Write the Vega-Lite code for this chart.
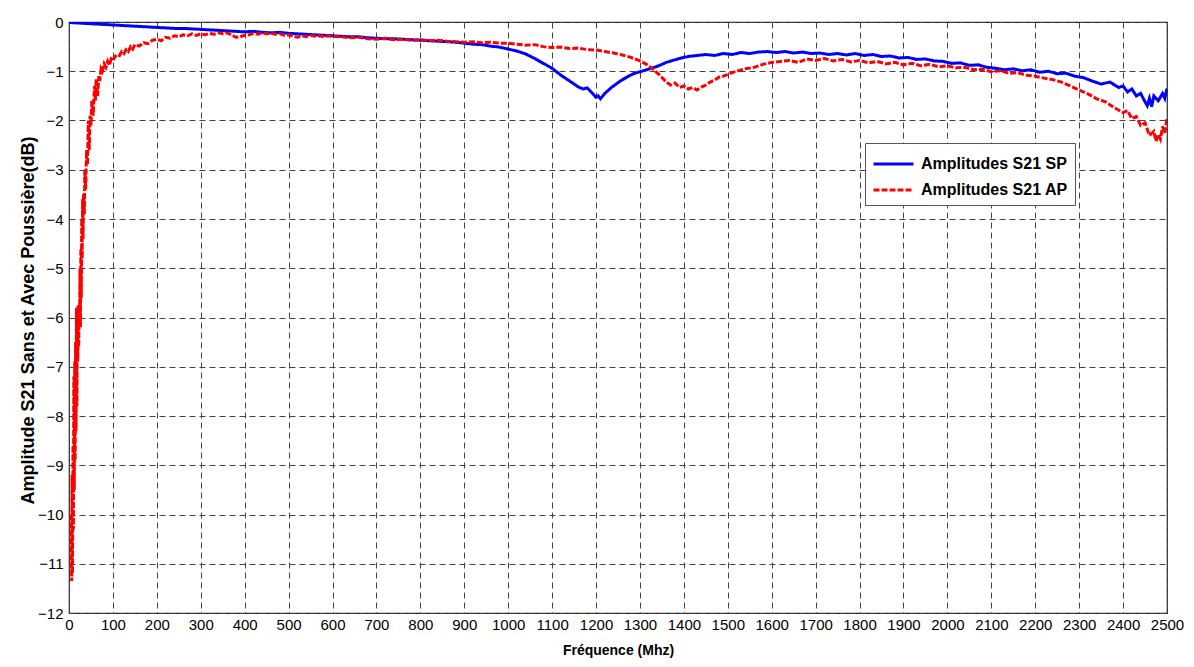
{
  "$schema": "https://vega.github.io/schema/vega-lite/v6.json",
  "width": 1098,
  "height": 591,
  "autosize": "none",
  "padding": {"left": 69, "top": 22, "right": 27, "bottom": 54},
  "background": "white",
  "config": {
    "view": {"stroke": "#222", "strokeWidth": 1.2},
    "font": "Liberation Sans",
    "axis": {
      "domain": false,
      "ticks": false,
      "grid": true,
      "gridColor": "#444",
      "gridDash": [6, 4],
      "gridOpacity": 1,
      "gridWidth": 1,
      "labelColor": "black",
      "labelFont": "Liberation Sans Narrow, Liberation Sans",
      "labelFontSize": 15,
      "titleColor": "black",
      "titleFont": "Liberation Sans",
      "titleFontWeight": "bold",
      "titleFontSize": 14
    }
  },
  "data": {"values": [
    {"c":"SP","f":0,"v":-0.01},{"c":"SP","f":20,"v":-0.02},{"c":"SP","f":40,"v":-0.03},{"c":"SP","f":60,"v":-0.04},{"c":"SP","f":80,"v":-0.05},{"c":"SP","f":100,"v":-0.06},{"c":"SP","f":120,"v":-0.07},{"c":"SP","f":140,"v":-0.08},{"c":"SP","f":160,"v":-0.09},{"c":"SP","f":180,"v":-0.10},{"c":"SP","f":200,"v":-0.11},{"c":"SP","f":220,"v":-0.12},{"c":"SP","f":240,"v":-0.13},{"c":"SP","f":260,"v":-0.13},{"c":"SP","f":280,"v":-0.14},{"c":"SP","f":300,"v":-0.15},{"c":"SP","f":320,"v":-0.16},{"c":"SP","f":340,"v":-0.17},{"c":"SP","f":360,"v":-0.18},{"c":"SP","f":380,"v":-0.19},{"c":"SP","f":400,"v":-0.20},{"c":"SP","f":420,"v":-0.19},{"c":"SP","f":440,"v":-0.21},{"c":"SP","f":460,"v":-0.22},{"c":"SP","f":480,"v":-0.21},{"c":"SP","f":500,"v":-0.23},{"c":"SP","f":520,"v":-0.24},{"c":"SP","f":540,"v":-0.25},{"c":"SP","f":560,"v":-0.26},{"c":"SP","f":580,"v":-0.27},{"c":"SP","f":600,"v":-0.28},{"c":"SP","f":620,"v":-0.29},{"c":"SP","f":640,"v":-0.30},{"c":"SP","f":660,"v":-0.30},{"c":"SP","f":680,"v":-0.32},{"c":"SP","f":700,"v":-0.33},{"c":"SP","f":720,"v":-0.34},{"c":"SP","f":740,"v":-0.34},{"c":"SP","f":760,"v":-0.35},{"c":"SP","f":780,"v":-0.36},{"c":"SP","f":800,"v":-0.37},{"c":"SP","f":820,"v":-0.38},{"c":"SP","f":840,"v":-0.39},{"c":"SP","f":860,"v":-0.40},{"c":"SP","f":880,"v":-0.41},{"c":"SP","f":900,"v":-0.43},{"c":"SP","f":920,"v":-0.45},{"c":"SP","f":940,"v":-0.46},{"c":"SP","f":960,"v":-0.49},{"c":"SP","f":980,"v":-0.51},{"c":"SP","f":1000,"v":-0.55},{"c":"SP","f":1020,"v":-0.59},{"c":"SP","f":1040,"v":-0.65},{"c":"SP","f":1060,"v":-0.74},{"c":"SP","f":1080,"v":-0.84},{"c":"SP","f":1100,"v":-0.94},{"c":"SP","f":1120,"v":-1.08},{"c":"SP","f":1140,"v":-1.20},{"c":"SP","f":1160,"v":-1.32},{"c":"SP","f":1170,"v":-1.36},{"c":"SP","f":1180,"v":-1.34},{"c":"SP","f":1190,"v":-1.43},{"c":"SP","f":1200,"v":-1.53},{"c":"SP","f":1205,"v":-1.50},{"c":"SP","f":1210,"v":-1.56},{"c":"SP","f":1220,"v":-1.45},{"c":"SP","f":1235,"v":-1.33},{"c":"SP","f":1255,"v":-1.20},{"c":"SP","f":1270,"v":-1.12},{"c":"SP","f":1285,"v":-1.05},{"c":"SP","f":1300,"v":-1.01},{"c":"SP","f":1315,"v":-0.97},{"c":"SP","f":1330,"v":-0.93},{"c":"SP","f":1345,"v":-0.88},{"c":"SP","f":1360,"v":-0.82},{"c":"SP","f":1375,"v":-0.78},{"c":"SP","f":1390,"v":-0.74},{"c":"SP","f":1410,"v":-0.70},{"c":"SP","f":1430,"v":-0.68},{"c":"SP","f":1450,"v":-0.66},{"c":"SP","f":1470,"v":-0.68},{"c":"SP","f":1490,"v":-0.64},{"c":"SP","f":1510,"v":-0.66},{"c":"SP","f":1530,"v":-0.62},{"c":"SP","f":1550,"v":-0.64},{"c":"SP","f":1570,"v":-0.61},{"c":"SP","f":1590,"v":-0.60},{"c":"SP","f":1610,"v":-0.62},{"c":"SP","f":1630,"v":-0.60},{"c":"SP","f":1650,"v":-0.63},{"c":"SP","f":1670,"v":-0.61},{"c":"SP","f":1690,"v":-0.64},{"c":"SP","f":1710,"v":-0.63},{"c":"SP","f":1730,"v":-0.66},{"c":"SP","f":1750,"v":-0.64},{"c":"SP","f":1770,"v":-0.67},{"c":"SP","f":1790,"v":-0.64},{"c":"SP","f":1810,"v":-0.68},{"c":"SP","f":1830,"v":-0.66},{"c":"SP","f":1850,"v":-0.70},{"c":"SP","f":1870,"v":-0.69},{"c":"SP","f":1890,"v":-0.73},{"c":"SP","f":1910,"v":-0.72},{"c":"SP","f":1930,"v":-0.76},{"c":"SP","f":1950,"v":-0.75},{"c":"SP","f":1970,"v":-0.79},{"c":"SP","f":1990,"v":-0.80},{"c":"SP","f":2010,"v":-0.84},{"c":"SP","f":2030,"v":-0.83},{"c":"SP","f":2050,"v":-0.88},{"c":"SP","f":2070,"v":-0.87},{"c":"SP","f":2090,"v":-0.92},{"c":"SP","f":2110,"v":-0.94},{"c":"SP","f":2130,"v":-0.97},{"c":"SP","f":2150,"v":-0.95},{"c":"SP","f":2170,"v":-0.99},{"c":"SP","f":2190,"v":-0.97},{"c":"SP","f":2210,"v":-1.02},{"c":"SP","f":2230,"v":-1.00},{"c":"SP","f":2250,"v":-1.05},{"c":"SP","f":2270,"v":-1.04},{"c":"SP","f":2290,"v":-1.10},{"c":"SP","f":2310,"v":-1.13},{"c":"SP","f":2330,"v":-1.20},{"c":"SP","f":2350,"v":-1.26},{"c":"SP","f":2370,"v":-1.22},{"c":"SP","f":2390,"v":-1.33},{"c":"SP","f":2400,"v":-1.30},{"c":"SP","f":2410,"v":-1.42},{"c":"SP","f":2420,"v":-1.36},{"c":"SP","f":2430,"v":-1.50},{"c":"SP","f":2440,"v":-1.45},{"c":"SP","f":2450,"v":-1.62},{"c":"SP","f":2455,"v":-1.70},{"c":"SP","f":2460,"v":-1.55},{"c":"SP","f":2465,"v":-1.72},{"c":"SP","f":2470,"v":-1.50},{"c":"SP","f":2480,"v":-1.60},{"c":"SP","f":2490,"v":-1.45},{"c":"SP","f":2495,"v":-1.55},{"c":"SP","f":2500,"v":-1.35},
    {"c":"AP","f":5,"v":-10.0},{"c":"AP","f":6,"v":-11.35},{"c":"AP","f":7,"v":-9.2},{"c":"AP","f":8,"v":-11.2},{"c":"AP","f":9,"v":-8.6},{"c":"AP","f":10,"v":-10.3},{"c":"AP","f":11,"v":-7.2},{"c":"AP","f":12,"v":-9.5},{"c":"AP","f":13,"v":-6.9},{"c":"AP","f":14,"v":-8.9},{"c":"AP","f":15,"v":-6.5},{"c":"AP","f":16,"v":-8.3},{"c":"AP","f":17,"v":-5.8},{"c":"AP","f":18,"v":-7.8},{"c":"AP","f":19,"v":-5.8},{"c":"AP","f":20,"v":-6.9},{"c":"AP","f":21,"v":-5.75},{"c":"AP","f":22,"v":-6.6},{"c":"AP","f":23,"v":-5.8},{"c":"AP","f":24,"v":-6.2},{"c":"AP","f":25,"v":-5.0},{"c":"AP","f":26,"v":-6.2},{"c":"AP","f":27,"v":-4.6},{"c":"AP","f":28,"v":-5.6},{"c":"AP","f":29,"v":-4.0},{"c":"AP","f":30,"v":-4.8},{"c":"AP","f":31,"v":-3.6},{"c":"AP","f":32,"v":-4.4},{"c":"AP","f":33,"v":-3.5},{"c":"AP","f":35,"v":-3.9},{"c":"AP","f":36,"v":-3.0},{"c":"AP","f":38,"v":-3.4},{"c":"AP","f":40,"v":-2.6},{"c":"AP","f":42,"v":-2.9},{"c":"AP","f":44,"v":-2.0},{"c":"AP","f":46,"v":-2.6},{"c":"AP","f":48,"v":-1.9},{"c":"AP","f":50,"v":-2.1},{"c":"AP","f":52,"v":-1.6},{"c":"AP","f":55,"v":-1.9},{"c":"AP","f":58,"v":-1.3},{"c":"AP","f":60,"v":-1.6},{"c":"AP","f":62,"v":-1.15},{"c":"AP","f":65,"v":-1.5},{"c":"AP","f":68,"v":-1.1},{"c":"AP","f":70,"v":-1.2},{"c":"AP","f":73,"v":-0.95},{"c":"AP","f":76,"v":-1.0},{"c":"AP","f":80,"v":-0.85},{"c":"AP","f":84,"v":-0.92},{"c":"AP","f":88,"v":-0.8},{"c":"AP","f":92,"v":-0.88},{"c":"AP","f":96,"v":-0.75},{"c":"AP","f":100,"v":-0.78},{"c":"AP","f":105,"v":-0.7},{"c":"AP","f":110,"v":-0.66},{"c":"AP","f":115,"v":-0.68},{"c":"AP","f":120,"v":-0.6},{"c":"AP","f":125,"v":-0.64},{"c":"AP","f":130,"v":-0.56},{"c":"AP","f":135,"v":-0.6},{"c":"AP","f":140,"v":-0.5},{"c":"AP","f":145,"v":-0.55},{"c":"AP","f":150,"v":-0.46},{"c":"AP","f":160,"v":-0.49},{"c":"AP","f":170,"v":-0.42},{"c":"AP","f":180,"v":-0.44},{"c":"AP","f":190,"v":-0.37},{"c":"AP","f":200,"v":-0.35},{"c":"AP","f":210,"v":-0.38},{"c":"AP","f":220,"v":-0.31},{"c":"AP","f":230,"v":-0.33},{"c":"AP","f":240,"v":-0.28},{"c":"AP","f":250,"v":-0.3},{"c":"AP","f":260,"v":-0.26},{"c":"AP","f":270,"v":-0.28},{"c":"AP","f":280,"v":-0.24},{"c":"AP","f":290,"v":-0.27},{"c":"AP","f":300,"v":-0.24},{"c":"AP","f":310,"v":-0.26},{"c":"AP","f":320,"v":-0.23},{"c":"AP","f":330,"v":-0.25},{"c":"AP","f":340,"v":-0.22},{"c":"AP","f":350,"v":-0.24},{"c":"AP","f":360,"v":-0.22},{"c":"AP","f":370,"v":-0.26},{"c":"AP","f":380,"v":-0.31},{"c":"AP","f":390,"v":-0.30},{"c":"AP","f":400,"v":-0.27},{"c":"AP","f":410,"v":-0.26},{"c":"AP","f":420,"v":-0.23},{"c":"AP","f":430,"v":-0.25},{"c":"AP","f":440,"v":-0.22},{"c":"AP","f":450,"v":-0.24},{"c":"AP","f":460,"v":-0.23},{"c":"AP","f":470,"v":-0.25},{"c":"AP","f":480,"v":-0.24},{"c":"AP","f":490,"v":-0.27},{"c":"AP","f":500,"v":-0.26},{"c":"AP","f":510,"v":-0.29},{"c":"AP","f":520,"v":-0.31},{"c":"AP","f":530,"v":-0.28},{"c":"AP","f":540,"v":-0.30},{"c":"AP","f":550,"v":-0.27},{"c":"AP","f":560,"v":-0.29},{"c":"AP","f":570,"v":-0.28},{"c":"AP","f":580,"v":-0.30},{"c":"AP","f":590,"v":-0.28},{"c":"AP","f":600,"v":-0.29},{"c":"AP","f":620,"v":-0.30},{"c":"AP","f":640,"v":-0.32},{"c":"AP","f":660,"v":-0.31},{"c":"AP","f":680,"v":-0.34},{"c":"AP","f":700,"v":-0.35},{"c":"AP","f":720,"v":-0.33},{"c":"AP","f":740,"v":-0.36},{"c":"AP","f":760,"v":-0.35},{"c":"AP","f":780,"v":-0.37},{"c":"AP","f":800,"v":-0.36},{"c":"AP","f":820,"v":-0.38},{"c":"AP","f":840,"v":-0.37},{"c":"AP","f":860,"v":-0.39},{"c":"AP","f":880,"v":-0.40},{"c":"AP","f":900,"v":-0.41},{"c":"AP","f":920,"v":-0.40},{"c":"AP","f":940,"v":-0.42},{"c":"AP","f":960,"v":-0.41},{"c":"AP","f":980,"v":-0.43},{"c":"AP","f":1000,"v":-0.43},{"c":"AP","f":1020,"v":-0.45},{"c":"AP","f":1040,"v":-0.47},{"c":"AP","f":1060,"v":-0.46},{"c":"AP","f":1080,"v":-0.50},{"c":"AP","f":1100,"v":-0.52},{"c":"AP","f":1120,"v":-0.51},{"c":"AP","f":1140,"v":-0.54},{"c":"AP","f":1160,"v":-0.53},{"c":"AP","f":1180,"v":-0.56},{"c":"AP","f":1200,"v":-0.57},{"c":"AP","f":1220,"v":-0.60},{"c":"AP","f":1240,"v":-0.63},{"c":"AP","f":1260,"v":-0.67},{"c":"AP","f":1280,"v":-0.72},{"c":"AP","f":1300,"v":-0.79},{"c":"AP","f":1315,"v":-0.86},{"c":"AP","f":1330,"v":-0.96},{"c":"AP","f":1345,"v":-1.08},{"c":"AP","f":1360,"v":-1.22},{"c":"AP","f":1370,"v":-1.28},{"c":"AP","f":1380,"v":-1.24},{"c":"AP","f":1390,"v":-1.33},{"c":"AP","f":1400,"v":-1.30},{"c":"AP","f":1410,"v":-1.36},{"c":"AP","f":1420,"v":-1.33},{"c":"AP","f":1430,"v":-1.38},{"c":"AP","f":1440,"v":-1.32},{"c":"AP","f":1450,"v":-1.28},{"c":"AP","f":1460,"v":-1.22},{"c":"AP","f":1470,"v":-1.18},{"c":"AP","f":1480,"v":-1.12},{"c":"AP","f":1490,"v":-1.10},{"c":"AP","f":1500,"v":-1.06},{"c":"AP","f":1520,"v":-1.0},{"c":"AP","f":1540,"v":-0.95},{"c":"AP","f":1560,"v":-0.92},{"c":"AP","f":1580,"v":-0.86},{"c":"AP","f":1600,"v":-0.82},{"c":"AP","f":1620,"v":-0.80},{"c":"AP","f":1640,"v":-0.78},{"c":"AP","f":1660,"v":-0.82},{"c":"AP","f":1680,"v":-0.75},{"c":"AP","f":1700,"v":-0.78},{"c":"AP","f":1720,"v":-0.74},{"c":"AP","f":1740,"v":-0.79},{"c":"AP","f":1760,"v":-0.76},{"c":"AP","f":1780,"v":-0.81},{"c":"AP","f":1800,"v":-0.78},{"c":"AP","f":1820,"v":-0.83},{"c":"AP","f":1840,"v":-0.80},{"c":"AP","f":1860,"v":-0.85},{"c":"AP","f":1880,"v":-0.82},{"c":"AP","f":1900,"v":-0.87},{"c":"AP","f":1920,"v":-0.84},{"c":"AP","f":1940,"v":-0.89},{"c":"AP","f":1960,"v":-0.86},{"c":"AP","f":1980,"v":-0.91},{"c":"AP","f":2000,"v":-0.89},{"c":"AP","f":2020,"v":-0.93},{"c":"AP","f":2040,"v":-0.92},{"c":"AP","f":2060,"v":-0.97},{"c":"AP","f":2080,"v":-0.96},{"c":"AP","f":2100,"v":-1.01},{"c":"AP","f":2120,"v":-0.99},{"c":"AP","f":2140,"v":-1.04},{"c":"AP","f":2160,"v":-1.03},{"c":"AP","f":2180,"v":-1.08},{"c":"AP","f":2200,"v":-1.10},{"c":"AP","f":2220,"v":-1.14},{"c":"AP","f":2240,"v":-1.17},{"c":"AP","f":2260,"v":-1.22},{"c":"AP","f":2280,"v":-1.30},{"c":"AP","f":2300,"v":-1.38},{"c":"AP","f":2320,"v":-1.46},{"c":"AP","f":2340,"v":-1.56},{"c":"AP","f":2360,"v":-1.62},{"c":"AP","f":2380,"v":-1.74},{"c":"AP","f":2400,"v":-1.84},{"c":"AP","f":2410,"v":-1.80},{"c":"AP","f":2420,"v":-1.96},{"c":"AP","f":2430,"v":-1.92},{"c":"AP","f":2440,"v":-2.10},{"c":"AP","f":2450,"v":-2.05},{"c":"AP","f":2460,"v":-2.30},{"c":"AP","f":2470,"v":-2.22},{"c":"AP","f":2475,"v":-2.42},{"c":"AP","f":2480,"v":-2.28},{"c":"AP","f":2485,"v":-2.38},{"c":"AP","f":2490,"v":-2.12},{"c":"AP","f":2495,"v":-2.25},{"c":"AP","f":2500,"v":-1.95}
  ]},
  "mark": {"type": "line", "strokeWidth": 3, "clip": true},
  "encoding": {
    "x": {
      "field": "f", "type": "quantitative",
      "scale": {"domain": [0, 2500], "nice": false, "zero": false},
      "axis": {
        "values": [0,100,200,300,400,500,600,700,800,900,1000,1100,1200,1300,1400,1500,1600,1700,1800,1900,2000,2100,2200,2300,2400,2500],
        "format": "d",
        "labelPadding": 4,
        "labelFlush": false,
        "labelOverlap": false,
        "title": "Fréquence (Mhz)",
        "titleX": 549,
        "titleY": 37,
        "titleBaseline": "middle",
        "titleAlign": "center"
      }
    },
    "y": {
      "field": "v", "type": "quantitative",
      "scale": {"domain": [-12, 0], "nice": false, "zero": false},
      "axis": {
        "values": [-12,-11,-10,-9,-8,-7,-6,-5,-4,-3,-2,-1,0],
        "format": "d",
        "labelPadding": 6,
        "labelFlush": false,
        "labelOverlap": false,
        "title": "Amplitude S21 Sans et Avec Poussière(dB)",
        "titleFontSize": 18,
        "titleX": -41,
        "titleY": 298,
        "titleAngle": -90,
        "titleBaseline": "middle",
        "titleAlign": "center"
      }
    },
    "color": {
      "field": "c", "type": "nominal",
      "scale": {"domain": ["SP", "AP"], "range": ["#0000ff", "#ff0000"]},
      "legend": {
        "title": null,
        "orient": "none",
        "legendX": 796,
        "legendY": 121,
        "labelExpr": "'Amplitudes S21 ' + datum.label",
        "labelFont": "Liberation Sans",
        "labelFontWeight": "bold",
        "labelFontSize": 16,
        "labelColor": "black",
        "symbolType": "M-1,0H2.2",
        "symbolSize": 625,
        "symbolStrokeWidth": 3,
        "labelOffset": 21,
        "rowPadding": 4,
        "padding": 7,
        "fillColor": "white",
        "strokeColor": "#555"
      }
    },
    "strokeDash": {
      "field": "c", "type": "nominal",
      "scale": {"domain": ["SP", "AP"], "range": [[1, 0], [6, 2]]},
      "legend": {
        "title": null,
        "orient": "none",
        "legendX": 796,
        "legendY": 121,
        "labelExpr": "'Amplitudes S21 ' + datum.label",
        "labelFont": "Liberation Sans",
        "labelFontWeight": "bold",
        "labelFontSize": 16,
        "labelColor": "black",
        "symbolType": "M-1,0H2.2",
        "symbolSize": 625,
        "symbolStrokeWidth": 3,
        "labelOffset": 21,
        "rowPadding": 4,
        "padding": 7,
        "fillColor": "white",
        "strokeColor": "#555"
      }
    }
  }
}
